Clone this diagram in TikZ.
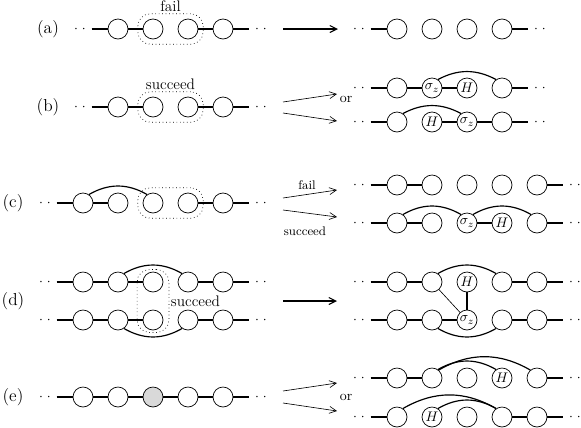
\documentclass[tikz,border=0pt]{standalone}
\usepackage{amsmath}
\usetikzlibrary{arrows.meta, positioning, calc, fit}

\tikzset{
  qubit/.style={circle, draw, line width=0.5pt, minimum size=14.4pt, inner sep=0pt},
  qubitgr/.style={qubit, fill=black!15},
  bond/.style={line width=0.85pt},
  thinbond/.style={line width=0.45pt},
  chaindots/.style={inner sep=4pt},
  meas/.style={draw, dotted, line width=0.5pt, rounded corners=9pt, inner sep=3.5pt},
  bigarrow/.style={-{Straight Barb[length=5pt,width=5pt]}, line width=0.8pt},
  smallarrow/.style={-{Straight Barb[length=5pt,width=5pt]}, line width=0.45pt},
  rowlbl/.style={font=\fontsize{12.5}{15}\selectfont},
  measlbl/.style={font=\fontsize{11}{13}\selectfont, inner sep=1pt},
  smalllbl/.style={font=\small, inner sep=1pt}
}

\begin{document}
\begin{tikzpicture}[x=0.72pt, y=0.72pt]
  \useasboundingbox (0,0) rectangle (581,-428);

  % row labels
  \foreach \nm/\lx/\ly in {a/48/29, b/48/107, c/13/203, d/13/301, e/13/397}
    \node[rowlbl] (lbl-\nm) at (\lx,-\ly) {(\nm)};

  % (a)
  \foreach \i in {2,...,5}
    \node[qubit] (aL\i) at ({48+35*\i},-29) {};
  \foreach \i in {1,...,4}
    \node[qubit] (aR\i) at ({362+35*\i},-29) {};
  \node[meas, fit=(aL3)(aL4)] (aBox) {};
  \node[measlbl, above=0pt of aBox] (aFail) {fail};
  \coordinate (aFrom) at (283,-29);
  \coordinate (aTo) at (338,-29);
  \draw[bigarrow] (aFrom) -- (aTo);

  % (b)
  \foreach \i in {2,...,5}
    \node[qubit] (bL\i) at ({48+35*\i},-107) {};
  \node[meas, fit=(bL3)(bL4)] (bBox) {};
  \node[measlbl, above=0pt of bBox] (bSucc) {succeed};
  \foreach \i/\lab in {1/{},2/{$\sigma_z$},3/{$H$},4/{}}
    \node[qubit] (bRu\i) at ({362+35*\i},-88) {\lab};
  \foreach \i/\lab in {1/{},2/{$H$},3/{$\sigma_z$},4/{}}
    \node[qubit] (bRd\i) at ({362+35*\i},-122) {\lab};
  \coordinate (bFrom1) at (283,-102); \coordinate (bTo1) at (337,-94);
  \coordinate (bFrom2) at (283,-113); \coordinate (bTo2) at (337,-121);
  \draw[smallarrow] (bFrom1) -- (bTo1);
  \draw[smallarrow] (bFrom2) -- (bTo2);
  \node (bOr) at (346,-99) {or};

  % (c)
  \foreach \i in {1,...,5}
    \node[qubit] (cL\i) at ({48+35*\i},-203) {};
  \node[meas, fit=(cL3)(cL4)] (cBox) {};
  \foreach \i in {1,...,5}
    \node[qubit] (cRu\i) at ({362+35*\i},-185) {};
  \foreach \i/\lab in {1/{},2/{},3/{$\sigma_z$},4/{$H$},5/{}}
    \node[qubit] (cRd\i) at ({362+35*\i},-223) {\lab};
  \coordinate (cFrom1) at (283,-198); \coordinate (cTo1) at (337,-190);
  \coordinate (cFrom2) at (283,-210); \coordinate (cTo2) at (337,-217);
  \draw[smallarrow] (cFrom1) -- (cTo1);
  \draw[smallarrow] (cFrom2) -- (cTo2);
  \node[smalllbl] (cFail) at (307,-185) {fail};
  \node[smalllbl] (cSucc) at (305,-231) {succeed};

  % (d)
  \foreach \r/\y in {u/282, d/320}{
    \foreach \i in {1,...,5}
      \node[qubit] (dL\r\i) at ({48+35*\i},-\y) {};
  }
  \node[meas, inner xsep=4pt, inner ysep=1.5pt, fit=(dLu3)(dLd3)] (dBox) {};
  \node[measlbl, right=0pt of dBox] (dSucc) {succeed};
  \foreach \i/\lab in {1/{},2/{},3/{$H$},4/{},5/{}}
    \node[qubit] (dRu\i) at ({362+35*\i},-282) {\lab};
  \foreach \i/\lab in {1/{},2/{},3/{$\sigma_z$},4/{},5/{}}
    \node[qubit] (dRd\i) at ({362+35*\i},-320) {\lab};
  \coordinate (dFrom) at (283,-301);
  \coordinate (dTo) at (337,-301);
  \draw[bigarrow] (dFrom) -- (dTo);

  % (e)
  \foreach \i/\sty in {1/qubit,2/qubit,3/qubitgr,4/qubit,5/qubit}
    \node[\sty] (eL\i) at ({48+35*\i},-397) {};
  \foreach \i/\lab in {1/{},2/{},3/{},4/{$H$},5/{}}
    \node[qubit] (eRu\i) at ({362+35*\i},-378) {\lab};
  \foreach \i/\lab in {1/{},2/{$H$},3/{},4/{},5/{}}
    \node[qubit] (eRd\i) at ({362+35*\i},-417) {\lab};
  \coordinate (eFrom1) at (283,-391); \coordinate (eTo1) at (337,-383);
  \coordinate (eFrom2) at (283,-403); \coordinate (eTo2) at (337,-411);
  \draw[smallarrow] (eFrom1) -- (eTo1);
  \draw[smallarrow] (eFrom2) -- (eTo2);
  \node (eOr) at (346,-397) {or};

  % chain ends
  \foreach \first/\last in {aL2/aL5, aR1/aR4, bL2/bL5, bRu1/bRu4, bRd1/bRd4,
      cL1/cL5, cRu1/cRu5, cRd1/cRd5, dLu1/dLu5, dLd1/dLd5, dRu1/dRu5, dRd1/dRd5,
      eL1/eL5, eRu1/eRu5, eRd1/eRd5}{
    \coordinate (\first-end) at ($(\first.west)+(-16,0)$);
    \coordinate (\last-end) at ($(\last.east)+(16,0)$);
    \draw[bond] (\first-end) -- (\first) (\last) -- (\last-end);
    \node[chaindots, anchor=east] (\first-dots) at (\first-end) {$\cdot\;\cdot$};
    \node[chaindots, anchor=west] (\last-dots) at (\last-end) {$\cdot\;\cdot$};
  }

  % bonds
  \foreach \a/\b in {aL2/aL3, aL4/aL5, bL2/bL3, bL4/bL5,
      bRu1/bRu2, bRu2/bRu3, bRd2/bRd3, bRd3/bRd4,
      cL1/cL2, cL4/cL5, cRu1/cRu2, cRd1/cRd2, cRd3/cRd4,
      dLu1/dLu2, dLu2/dLu3, dLu4/dLu5, dLd1/dLd2, dLd2/dLd3, dLd4/dLd5,
      dRu1/dRu2, dRu4/dRu5, dRd1/dRd2, dRd2/dRd3, dRd4/dRd5, dRu3/dRd3,
      eL1/eL2, eL2/eL3, eL3/eL4, eL4/eL5, eRu1/eRu2, eRd4/eRd5}
    \draw[bond] (\a) -- (\b);

  % arcs
  \draw[bond] (bRu2.55) to[bend left=28] (bRu4.125);
  \draw[bond] (bRd1.55) to[bend left=28] (bRd3.125);
  \draw[bond] (cL1.55) to[bend left=30] (cL3.125);
  \draw[bond] (cRd1.55) to[bend left=30] (cRd3.125);
  \draw[bond] (cRd3.55) to[bend left=30] (cRd5.125);
  \draw[bond] (dLu2.55) to[bend left=30] (dLu4.125);
  \draw[bond] (dLd2.-55) to[bend right=30] (dLd4.-125);
  \draw[bond] (dRu2.55) to[bend left=30] (dRu4.125);
  \draw[bond] (dRd2.-55) to[bend right=30] (dRd4.-125);
  \draw[thinbond] (dRu2) -- (dRd3);
  \draw[bond] (eRu2.55) to[bend left=30] (eRu4.125);
  \draw[bond] (eRu2.50) to[bend left=30] (eRu5.130);
  \draw[bond] (eRd1.55) to[bend left=30] (eRd4.125);
  \draw[bond] (eRd2.55) to[bend left=30] (eRd4.125);
\end{tikzpicture}
\end{document}
